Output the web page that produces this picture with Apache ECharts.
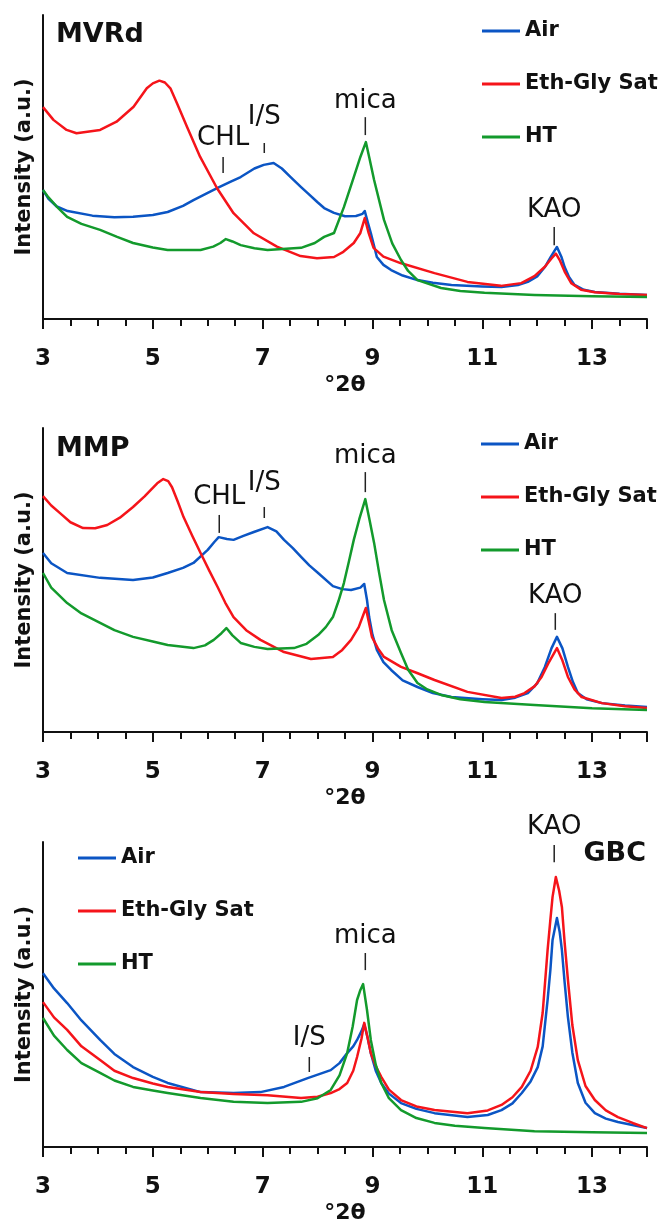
<!DOCTYPE html>
<html>
<head>
<meta charset="utf-8">
<script src="https://cdn.jsdelivr.net/npm/echarts@6/dist/echarts.min.js"></script>
<style>
html,body{margin:0;padding:0;background:#fff;}
#c{width:666px;height:1230px;}
</style>
</head>
<body>
<div id="c"></div>
<script>
// ---------- texts ----------
const seriesNames = ['Air', 'Eth-Gly Sat', 'HT'];
const panelTitles = ['MVRd', 'MMP', 'GBC'];
const xName = '°2θ';
const yName = 'Intensity (a.u.)';
const xTickLabels = [3, 5, 7, 9, 11, 13];

// ---------- MVRd ----------
const mvrdAir = [[3.00,42.4],[3.10,39.5],[3.25,37.0],[3.45,35.5],[3.90,34.0],[4.30,33.5],[4.64,33.6],[5.00,34.2],[5.27,35.2],[5.55,37.2],[5.74,39.1],[6.00,41.5],[6.18,43.1],[6.40,45.0],[6.60,46.7],[6.85,49.5],[7.02,50.7],[7.20,51.3],[7.35,49.5],[7.51,46.7],[7.70,43.4],[7.82,41.4],[8.00,38.4],[8.12,36.5],[8.30,34.9],[8.50,33.8],[8.70,33.9],[8.82,34.6],[8.86,35.5],[8.92,31.5],[8.97,28.3],[9.03,24.0],[9.08,20.4],[9.20,17.8],[9.34,16.1],[9.55,14.3],[9.82,12.8],[10.10,11.9],[10.44,11.2],[11.00,10.7],[11.35,10.5],[11.65,11.2],[11.83,12.2],[12.00,14.0],[12.14,17.1],[12.25,20.5],[12.36,23.7],[12.44,20.5],[12.50,17.1],[12.58,13.8],[12.68,11.2],[12.85,9.6],[13.05,8.9],[13.50,8.3],[14.00,7.9]];
const mvrdEth = [[3.00,69.7],[3.19,65.5],[3.43,62.2],[3.61,61.1],[4.04,62.2],[4.34,64.9],[4.65,69.8],[4.89,75.9],[5.00,77.5],[5.12,78.4],[5.22,77.8],[5.32,75.9],[5.44,71.0],[5.62,63.3],[5.86,53.4],[6.17,43.0],[6.47,34.8],[6.84,28.2],[7.26,23.8],[7.69,20.7],[7.99,20.0],[8.30,20.4],[8.47,22.1],[8.66,25.0],[8.78,28.3],[8.86,33.2],[8.93,28.3],[9.02,23.4],[9.20,20.5],[9.51,18.4],[10.13,15.1],[10.73,12.2],[11.34,10.9],[11.71,11.8],[11.95,14.1],[12.14,17.2],[12.26,19.9],[12.34,21.5],[12.41,19.4],[12.50,15.6],[12.62,11.8],[12.80,9.6],[13.05,8.8],[13.50,8.2],[14.00,7.9]];
const mvrdHT = [[3.00,42.4],[3.10,40.0],[3.25,37.0],[3.44,33.6],[3.70,31.3],[4.04,29.3],[4.35,27.0],[4.64,25.0],[5.00,23.5],[5.27,22.7],[5.87,22.7],[6.10,23.8],[6.23,25.0],[6.33,26.3],[6.45,25.5],[6.60,24.3],[6.85,23.3],[7.09,22.7],[7.70,23.4],[7.95,25.0],[8.12,27.0],[8.30,28.3],[8.48,36.8],[8.66,46.7],[8.78,53.3],[8.88,58.2],[8.94,53.3],[9.03,45.7],[9.21,32.6],[9.36,24.9],[9.52,19.4],[9.65,15.8],[9.82,12.8],[10.25,10.2],[10.60,9.2],[11.04,8.6],[11.95,7.9],[13.00,7.5],[14.00,7.2]];
const mvrdNotes = [['CHL',6.28,48.0,53.3,59.5],['I/S',7.03,54.6,57.9,66.4],['mica',8.87,60.5,66.4,71.7],['KAO',12.31,24.3,30.3,35.9]];

// ---------- MMP ----------
const mmpAir = [[3.00,58.9],[3.15,55.5],[3.44,52.3],[4.04,50.7],[4.64,50.0],[5.00,50.8],[5.27,52.3],[5.55,54.0],[5.74,55.6],[6.00,59.9],[6.12,62.5],[6.20,64.1],[6.35,63.5],[6.47,63.2],[6.65,64.5],[6.84,65.8],[7.09,67.4],[7.25,66.0],[7.39,63.2],[7.55,60.5],[7.70,57.6],[7.85,54.8],[8.01,52.3],[8.28,48.0],[8.45,47.0],[8.61,46.7],[8.78,47.5],[8.85,48.7],[8.90,43.5],[8.94,37.8],[9.00,32.0],[9.08,27.0],[9.20,23.0],[9.34,20.4],[9.55,17.0],[9.82,14.8],[10.10,12.8],[10.44,11.5],[11.00,10.8],[11.35,10.5],[11.60,11.3],[11.83,12.8],[12.00,16.0],[12.14,21.4],[12.26,27.5],[12.36,31.3],[12.46,27.5],[12.56,21.4],[12.65,16.5],[12.74,12.8],[12.90,10.8],[13.18,9.5],[13.60,8.7],[14.00,8.2]];
const mmpEth = [[3.00,77.6],[3.15,74.5],[3.31,72.0],[3.50,69.0],[3.73,67.1],[3.95,67.0],[4.17,68.1],[4.40,70.5],[4.64,74.0],[4.85,77.5],[4.96,79.6],[5.08,81.8],[5.19,83.2],[5.28,82.5],[5.35,80.5],[5.45,76.0],[5.56,70.7],[5.72,64.5],[5.87,58.9],[6.03,53.0],[6.18,47.7],[6.32,42.5],[6.47,37.8],[6.70,33.5],[6.96,30.3],[7.39,26.3],[7.88,24.0],[8.28,24.7],[8.45,27.0],[8.61,30.3],[8.75,34.5],[8.88,40.8],[8.93,36.5],[8.99,31.3],[9.10,27.5],[9.21,24.7],[9.52,21.4],[9.80,19.5],[10.13,17.1],[10.73,13.2],[11.35,11.2],[11.60,11.6],[11.77,12.8],[11.95,15.0],[12.08,18.1],[12.20,22.5],[12.36,27.6],[12.46,23.5],[12.56,18.1],[12.68,14.0],[12.81,11.5],[13.18,9.5],[13.60,8.5],[14.00,7.9]];
const mmpHT = [[3.00,52.3],[3.15,47.5],[3.44,42.4],[3.70,39.0],[4.04,35.9],[4.30,33.5],[4.64,31.3],[5.00,29.8],[5.27,28.6],[5.74,27.6],[5.95,28.5],[6.11,30.3],[6.25,32.5],[6.34,34.2],[6.45,31.8],[6.60,29.3],[6.85,28.0],[7.09,27.3],[7.57,27.6],[7.80,29.0],[8.01,31.9],[8.15,34.5],[8.28,37.8],[8.38,43.0],[8.48,49.0],[8.57,56.0],[8.66,63.2],[8.76,70.0],[8.87,76.6],[8.95,69.5],[9.03,62.2],[9.12,52.5],[9.21,43.4],[9.35,33.5],[9.52,26.0],[9.65,20.5],[9.82,16.1],[10.00,14.0],[10.25,12.2],[10.60,10.8],[11.04,9.9],[11.95,8.9],[13.00,7.8],[14.00,7.2]];
const mmpNotes = [['CHL',6.21,65.5,71.4,77.3],['I/S',7.03,70.4,74.0,81.9],['mica',8.87,78.9,85.5,90.8],['KAO',12.33,33.6,39.1,44.7]];

// ---------- GBC ----------
const gbcAir = [[3.00,57.0],[3.20,52.0],[3.44,47.2],[3.70,41.5],[4.04,35.1],[4.30,30.5],[4.64,26.2],[5.00,23.0],[5.27,21.0],[5.87,18.0],[6.47,17.7],[6.96,18.0],[7.39,19.7],[7.82,22.6],[8.24,25.2],[8.40,27.5],[8.54,30.8],[8.65,33.0],[8.72,35.1],[8.80,38.0],[8.85,40.3],[8.91,36.0],[8.97,30.8],[9.06,25.0],[9.16,21.0],[9.30,17.5],[9.52,14.4],[9.80,12.5],[10.13,11.1],[10.73,9.8],[11.10,10.5],[11.35,12.1],[11.55,14.3],[11.72,17.7],[11.88,21.5],[12.01,26.2],[12.10,33.0],[12.19,48.2],[12.24,58.0],[12.28,67.9],[12.36,75.1],[12.41,70.5],[12.45,64.6],[12.50,54.0],[12.56,42.6],[12.64,31.0],[12.74,21.0],[12.88,14.5],[13.05,11.1],[13.25,9.3],[13.47,8.2],[14.00,6.2]];
const gbcEth = [[3.00,47.5],[3.20,42.5],[3.44,38.4],[3.70,33.0],[4.04,28.5],[4.30,25.0],[4.64,22.6],[5.00,20.8],[5.27,19.7],[5.87,18.0],[6.47,17.4],[7.09,17.0],[7.70,16.1],[8.00,16.5],[8.24,17.7],[8.40,19.0],[8.54,21.0],[8.65,25.0],[8.72,29.5],[8.80,35.5],[8.85,40.7],[8.91,36.0],[8.97,30.8],[9.06,26.5],[9.16,23.0],[9.30,18.8],[9.52,15.4],[9.80,13.3],[10.13,12.1],[10.73,11.1],[11.10,12.0],[11.35,13.8],[11.55,16.3],[11.72,19.7],[11.88,25.0],[12.01,32.8],[12.10,44.0],[12.19,64.6],[12.24,74.5],[12.28,82.0],[12.34,88.5],[12.40,84.0],[12.45,78.7],[12.50,67.0],[12.56,54.8],[12.64,40.0],[12.74,28.5],[12.88,20.0],[13.05,15.4],[13.25,12.0],[13.47,9.8],[13.75,7.8],[14.00,6.2]];
const gbcHT = [[3.00,42.3],[3.20,36.5],[3.44,31.8],[3.70,27.5],[4.04,24.3],[4.30,21.8],[4.64,19.7],[5.00,18.5],[5.27,17.7],[5.87,16.1],[6.47,14.8],[7.09,14.4],[7.70,14.8],[8.00,16.0],[8.24,18.7],[8.40,23.5],[8.54,30.8],[8.64,39.5],[8.72,48.2],[8.78,51.5],[8.83,53.4],[8.90,45.0],[8.97,35.1],[9.06,27.0],[9.16,21.0],[9.30,16.0],[9.52,12.1],[9.80,9.5],[10.13,7.9],[10.50,7.0],[11.04,6.2],[11.95,5.2],[13.00,4.8],[14.00,4.6]];
const gbcNotes = [['I/S',7.85,24.6,29.5,35.7],['mica',8.87,58.0,63.6,69.2],['KAO',12.31,93.4,99.0,104.9]];

// ---------- build ----------
const FONT = '"DejaVu Sans", sans-serif';
const colors = ['#0b55c4', '#f5141a', '#139a2c'];
const panels = [
  {air: mvrdAir, eth: mvrdEth, ht: mvrdHT, notes: mvrdNotes},
  {air: mmpAir, eth: mmpEth, ht: mmpHT, notes: mmpNotes},
  {air: gbcAir, eth: gbcEth, ht: gbcHT, notes: gbcNotes}
];
const gridTops = [15, 428, 842];
const gridHeights = [304, 304, 305];

const grid = [], xAxis = [], yAxis = [], series = [];
panels.forEach((p, i) => {
  grid.push({left: 43, right: 19, top: gridTops[i], height: gridHeights[i]});
  xAxis.push({
    type: 'value', gridIndex: i, min: 3, max: 14, interval: 0.5,
    name: xName, nameLocation: 'middle', nameGap: 55,
    nameTextStyle: {fontFamily: FONT, fontWeight: 'bold', fontSize: 22, color: '#111'},
    axisLine: {show: true, onZero: false, lineStyle: {color: '#111', width: 2}},
    axisTick: {show: true, length: 7, lineStyle: {color: '#111', width: 2}},
    splitLine: {show: false},
    axisLabel: {
      fontFamily: FONT, fontWeight: 'bold', fontSize: 23, color: '#111', margin: 29,
      formatter: v => (xTickLabels.indexOf(v) >= 0 ? String(v) : '')
    }
  });
  xAxis.push({
    type: 'value', gridIndex: i, min: 3, max: 14, interval: 2, position: 'bottom',
    axisLine: {show: false},
    axisTick: {show: true, length: 10, lineStyle: {color: '#111', width: 2}},
    axisLabel: {show: false}, splitLine: {show: false}
  });
  yAxis.push({
    type: 'value', gridIndex: i, min: 0, max: 100,
    name: yName, nameLocation: 'middle', nameGap: 8,
    nameTextStyle: {fontFamily: FONT, fontWeight: 'bold', fontSize: 21, color: '#111'},
    axisLine: {show: true, onZero: false, lineStyle: {color: '#111', width: 2}},
    axisTick: {show: false}, axisLabel: {show: false}, splitLine: {show: false}
  });
  [p.air, p.eth, p.ht].forEach((d, k) => {
    series.push({
      type: 'line', name: seriesNames[k], xAxisIndex: i * 2, yAxisIndex: i,
      data: d, showSymbol: false, symbol: 'none', smooth: false,
      lineStyle: {color: colors[k], width: 2.5, join: 'round'}, itemStyle: {color: colors[k]},
      z: 3 + k, animation: false
    });
  });
  const notes = p.notes;
  series.push({
    type: 'custom', xAxisIndex: i * 2, yAxisIndex: i, clip: false, z: 10, silent: true,
    data: notes.map(n => [n[1], n[2], n[3], n[4]]),
    encode: {x: 0, y: [1, 2, 3]},
    renderItem: (params, api) => {
      const x = api.value(0);
      const a = api.coord([x, api.value(1)]);
      const b = api.coord([x, api.value(2)]);
      const t = api.coord([x, api.value(3)]);
      return {type: 'group', children: [
        {type: 'line', shape: {x1: a[0], y1: a[1], x2: b[0], y2: b[1]}, style: {stroke: '#222', lineWidth: 1.5}},
        {type: 'text', style: {text: notes[params.dataIndex][0], x: t[0], y: t[1], align: 'center', verticalAlign: 'middle',
          fontFamily: FONT, fontSize: 26, fill: '#111'}}
      ]};
    }
  });
});

const legendBase = {
  orient: 'vertical', data: seriesNames, itemWidth: 38, itemHeight: 14, itemGap: 29,
  icon: 'path://M0,0 L38,0 L38,3 L0,3 Z',
  textStyle: {fontFamily: FONT, fontWeight: 'bold', fontSize: 21, color: '#111', lineHeight: 24},
  selectedMode: false, padding: 0
};
const legend = [
  Object.assign({}, legendBase, {left: 482, top: 19}),
  Object.assign({}, legendBase, {left: 481, top: 432}),
  Object.assign({}, legendBase, {left: 78, top: 846})
];

const titleStyle = {fontFamily: FONT, fontWeight: 'bold', fontSize: 27, color: '#111'};
const title = [
  {text: panelTitles[0], left: 56, top: 21, padding: 0, textStyle: titleStyle},
  {text: panelTitles[1], left: 56, top: 435, padding: 0, textStyle: titleStyle},
  {text: panelTitles[2], right: 20, top: 840, padding: 0, textStyle: titleStyle}
];

const chart = echarts.init(document.getElementById('c'), null, {renderer: 'canvas'});
chart.setOption({
  animation: false, backgroundColor: '#fff', color: colors,
  title, legend, grid, xAxis, yAxis, series
});
</script>
</body>
</html>
